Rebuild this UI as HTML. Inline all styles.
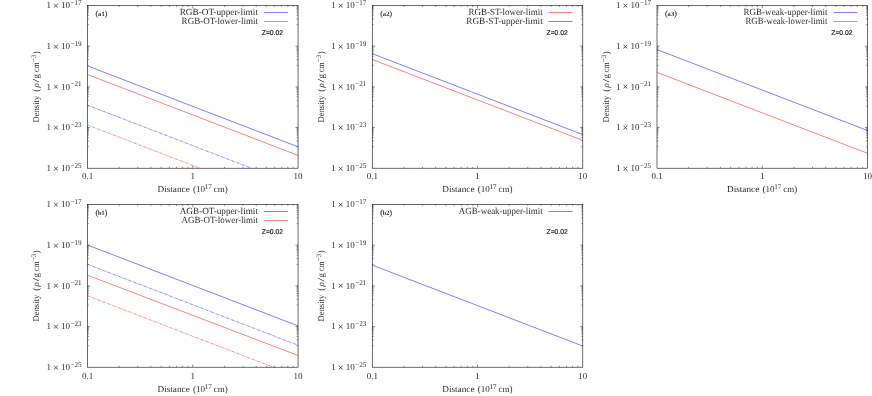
<!DOCTYPE html>
<html><head><meta charset="utf-8"><title>density</title>
<style>
html,body{margin:0;padding:0;background:#fff;}
body{width:872px;height:396px;overflow:hidden;}
svg{display:block;will-change:transform;text-rendering:geometricPrecision;}
.t{font-family:"Liberation Serif",serif;font-size:9px;fill:#2e2e2e;}
.sup{font-family:"Liberation Serif",serif;font-size:7.15px;fill:#2e2e2e;}
.tag{font-family:"Liberation Serif",serif;font-weight:bold;font-size:6.6px;fill:#2e2e2e;}
.z{font-family:"Liberation Sans",sans-serif;font-size:7px;fill:#2e2e2e;stroke:#222;stroke-width:0.2px;}
.par{font-family:"Liberation Serif",serif;font-size:7.7px;fill:#222;stroke:#222;stroke-width:0.15px;}
</style></head><body>
<svg width="872" height="396" viewBox="0 0 872 396">
<path d="M119.19 168.2v-1.4M119.19 5.5v1.4M137.73 168.2v-1.4M137.73 5.5v1.4M150.88 168.2v-1.4M150.88 5.5v1.4M161.08 168.2v-1.4M161.08 5.5v1.4M169.42 168.2v-1.4M169.42 5.5v1.4M176.47 168.2v-1.4M176.47 5.5v1.4M182.57 168.2v-1.4M182.57 5.5v1.4M187.96 168.2v-1.4M187.96 5.5v1.4M192.78 168.2v-2.6M192.78 5.5v2.6M224.47 168.2v-1.4M224.47 5.5v1.4M243 168.2v-1.4M243 5.5v1.4M256.16 168.2v-1.4M256.16 5.5v1.4M266.36 168.2v-1.4M266.36 5.5v1.4M274.69 168.2v-1.4M274.69 5.5v1.4M281.74 168.2v-1.4M281.74 5.5v1.4M287.85 168.2v-1.4M287.85 5.5v1.4M293.23 168.2v-1.4M293.23 5.5v1.4M87.5 24.7h1.4M298.05 24.7h-1.4M87.5 18.92h1.4M298.05 18.92h-1.4M87.5 15.54h1.4M298.05 15.54h-1.4M87.5 13.14h1.4M298.05 13.14h-1.4M87.5 11.28h1.4M298.05 11.28h-1.4M87.5 9.76h1.4M298.05 9.76h-1.4M87.5 8.47h1.4M298.05 8.47h-1.4M87.5 7.36h1.4M298.05 7.36h-1.4M87.5 6.38h1.4M298.05 6.38h-1.4M87.5 46.17h2.6M298.05 46.17h-2.6M87.5 65.38h1.4M298.05 65.38h-1.4M87.5 59.6h1.4M298.05 59.6h-1.4M87.5 56.21h1.4M298.05 56.21h-1.4M87.5 53.82h1.4M298.05 53.82h-1.4M87.5 51.95h1.4M298.05 51.95h-1.4M87.5 50.43h1.4M298.05 50.43h-1.4M87.5 49.15h1.4M298.05 49.15h-1.4M87.5 48.04h1.4M298.05 48.04h-1.4M87.5 47.05h1.4M298.05 47.05h-1.4M87.5 86.85h2.6M298.05 86.85h-2.6M87.5 106.05h1.4M298.05 106.05h-1.4M87.5 100.27h1.4M298.05 100.27h-1.4M87.5 96.89h1.4M298.05 96.89h-1.4M87.5 94.49h1.4M298.05 94.49h-1.4M87.5 92.63h1.4M298.05 92.63h-1.4M87.5 91.11h1.4M298.05 91.11h-1.4M87.5 89.82h1.4M298.05 89.82h-1.4M87.5 88.71h1.4M298.05 88.71h-1.4M87.5 87.73h1.4M298.05 87.73h-1.4M87.5 127.52h2.6M298.05 127.52h-2.6M87.5 146.72h1.4M298.05 146.72h-1.4M87.5 140.95h1.4M298.05 140.95h-1.4M87.5 137.56h1.4M298.05 137.56h-1.4M87.5 135.17h1.4M298.05 135.17h-1.4M87.5 133.3h1.4M298.05 133.3h-1.4M87.5 131.78h1.4M298.05 131.78h-1.4M87.5 130.5h1.4M298.05 130.5h-1.4M87.5 129.39h1.4M298.05 129.39h-1.4M87.5 128.4h1.4M298.05 128.4h-1.4" stroke="#000" stroke-width="0.44" fill="none"/>
<clipPath id="ca1"><rect x="87.5" y="5.5" width="210.55" height="162.7"/></clipPath>
<g clip-path="url(#ca1)" fill="none" stroke-width="0.5">
<path d="M87.5 65.9L298.05 146.8" stroke="#0000ff"/>
<path d="M87.5 74.5L298.05 155.4" stroke="#ff0000"/>
<path d="M87.5 105.2L298.05 186.1" stroke="#0000ff" stroke-opacity="0.45"/>
<path d="M87.5 105.2L298.05 186.1" stroke="#0000ff" stroke-opacity="0.6" stroke-dasharray="2.2 3.32"/>
<path d="M87.5 125L298.05 205.9" stroke="#ff0000" stroke-opacity="0.45"/>
<path d="M87.5 125L298.05 205.9" stroke="#ff0000" stroke-opacity="0.6" stroke-dasharray="2.2 3.32"/>
</g>
<rect x="87.5" y="5.5" width="210.55" height="162.7" fill="none" stroke="#000" stroke-width="0.58"/>
<text x="46.5" y="8.2" class="t">1</text>
<text x="55.85" y="9.1" class="t" style="font-size:10.2px" text-anchor="middle">×</text>
<text x="61" y="8.2" class="t">10</text>
<text x="70.5" y="5.05" class="sup">−17</text>
<text x="46.5" y="48.88" class="t">1</text>
<text x="55.85" y="49.77" class="t" style="font-size:10.2px" text-anchor="middle">×</text>
<text x="61" y="48.88" class="t">10</text>
<text x="70.5" y="45.73" class="sup">−19</text>
<text x="46.5" y="89.55" class="t">1</text>
<text x="55.85" y="90.45" class="t" style="font-size:10.2px" text-anchor="middle">×</text>
<text x="61" y="89.55" class="t">10</text>
<text x="70.5" y="86.4" class="sup">−21</text>
<text x="46.5" y="130.22" class="t">1</text>
<text x="55.85" y="131.12" class="t" style="font-size:10.2px" text-anchor="middle">×</text>
<text x="61" y="130.22" class="t">10</text>
<text x="70.5" y="127.07" class="sup">−23</text>
<text x="46.5" y="170.9" class="t">1</text>
<text x="55.85" y="171.8" class="t" style="font-size:10.2px" text-anchor="middle">×</text>
<text x="61" y="170.9" class="t">10</text>
<text x="70.5" y="167.75" class="sup">−25</text>
<text x="87.5" y="178.8" class="t" text-anchor="middle">0.1</text>
<text x="192.78" y="178.8" class="t" text-anchor="middle">1</text>
<text x="298.05" y="178.8" class="t" text-anchor="middle">10</text>
<text x="157.48" y="191.8" class="t" textLength="32.3" lengthAdjust="spacingAndGlyphs">Distance</text>
<text x="193.08" y="191.8" class="t">(10</text>
<text x="204.68" y="188.7" class="sup">17</text>
<text x="213.68" y="191.8" class="t">cm)</text>
<g transform="translate(39.1 86.85) rotate(-90)">
<text x="-35.6" y="0" class="t" textLength="26.6" lengthAdjust="spacingAndGlyphs">Density</text>
<text x="-5.0" y="0" class="t">(</text>
<text x="-0.7" y="0" class="t" font-style="italic">ρ</text>
<text x="4.3" y="0" class="t" textLength="3.7" lengthAdjust="spacingAndGlyphs">/</text>
<text x="8.4" y="0" class="t">g</text>
<text x="14.5" y="0" class="t" textLength="10" lengthAdjust="spacingAndGlyphs">cm</text>
<text x="24.7" y="-3.0" class="sup">−3</text>
<text x="32.6" y="0" class="t">)</text>
</g>
<text x="95.5" y="16.3" class="par">(</text>
<text x="98.1" y="16" class="tag" textLength="6.6" lengthAdjust="spacingAndGlyphs">a1</text>
<text x="104.7" y="16.3" class="par">)</text>
<text x="258" y="14.7" class="t" style="font-size:9.4px" text-anchor="end" textLength="78.3" lengthAdjust="spacingAndGlyphs">RGB-OT-upper-limit</text>
<path d="M263.9 12.5h24" stroke="#0000ff" stroke-width="0.5" fill="none"/>
<text x="258" y="23.7" class="t" style="font-size:9.4px" text-anchor="end" textLength="76.4" lengthAdjust="spacingAndGlyphs">RGB-OT-lower-limit</text>
<path d="M263.9 21.5h24" stroke="#ff0000" stroke-width="0.5" fill="none"/>
<text x="261.8" y="35.1" class="z" textLength="21.2" lengthAdjust="spacingAndGlyphs">Z=0.02</text>
<path d="M403.94 168.2v-1.4M403.94 5.5v1.4M422.48 168.2v-1.4M422.48 5.5v1.4M435.63 168.2v-1.4M435.63 5.5v1.4M445.83 168.2v-1.4M445.83 5.5v1.4M454.17 168.2v-1.4M454.17 5.5v1.4M461.22 168.2v-1.4M461.22 5.5v1.4M467.32 168.2v-1.4M467.32 5.5v1.4M472.71 168.2v-1.4M472.71 5.5v1.4M477.52 168.2v-2.6M477.52 5.5v2.6M509.22 168.2v-1.4M509.22 5.5v1.4M527.75 168.2v-1.4M527.75 5.5v1.4M540.91 168.2v-1.4M540.91 5.5v1.4M551.11 168.2v-1.4M551.11 5.5v1.4M559.44 168.2v-1.4M559.44 5.5v1.4M566.49 168.2v-1.4M566.49 5.5v1.4M572.6 168.2v-1.4M572.6 5.5v1.4M577.98 168.2v-1.4M577.98 5.5v1.4M372.25 24.7h1.4M582.8 24.7h-1.4M372.25 18.92h1.4M582.8 18.92h-1.4M372.25 15.54h1.4M582.8 15.54h-1.4M372.25 13.14h1.4M582.8 13.14h-1.4M372.25 11.28h1.4M582.8 11.28h-1.4M372.25 9.76h1.4M582.8 9.76h-1.4M372.25 8.47h1.4M582.8 8.47h-1.4M372.25 7.36h1.4M582.8 7.36h-1.4M372.25 6.38h1.4M582.8 6.38h-1.4M372.25 46.17h2.6M582.8 46.17h-2.6M372.25 65.38h1.4M582.8 65.38h-1.4M372.25 59.6h1.4M582.8 59.6h-1.4M372.25 56.21h1.4M582.8 56.21h-1.4M372.25 53.82h1.4M582.8 53.82h-1.4M372.25 51.95h1.4M582.8 51.95h-1.4M372.25 50.43h1.4M582.8 50.43h-1.4M372.25 49.15h1.4M582.8 49.15h-1.4M372.25 48.04h1.4M582.8 48.04h-1.4M372.25 47.05h1.4M582.8 47.05h-1.4M372.25 86.85h2.6M582.8 86.85h-2.6M372.25 106.05h1.4M582.8 106.05h-1.4M372.25 100.27h1.4M582.8 100.27h-1.4M372.25 96.89h1.4M582.8 96.89h-1.4M372.25 94.49h1.4M582.8 94.49h-1.4M372.25 92.63h1.4M582.8 92.63h-1.4M372.25 91.11h1.4M582.8 91.11h-1.4M372.25 89.82h1.4M582.8 89.82h-1.4M372.25 88.71h1.4M582.8 88.71h-1.4M372.25 87.73h1.4M582.8 87.73h-1.4M372.25 127.52h2.6M582.8 127.52h-2.6M372.25 146.72h1.4M582.8 146.72h-1.4M372.25 140.95h1.4M582.8 140.95h-1.4M372.25 137.56h1.4M582.8 137.56h-1.4M372.25 135.17h1.4M582.8 135.17h-1.4M372.25 133.3h1.4M582.8 133.3h-1.4M372.25 131.78h1.4M582.8 131.78h-1.4M372.25 130.5h1.4M582.8 130.5h-1.4M372.25 129.39h1.4M582.8 129.39h-1.4M372.25 128.4h1.4M582.8 128.4h-1.4" stroke="#000" stroke-width="0.44" fill="none"/>
<clipPath id="ca2"><rect x="372.25" y="5.5" width="210.55" height="162.7"/></clipPath>
<g clip-path="url(#ca2)" fill="none" stroke-width="0.5">
<path d="M372.25 59.5L582.8 140.4" stroke="#ff0000"/>
<path d="M372.25 53.7L582.8 134.6" stroke="#0000ff"/>
</g>
<rect x="372.25" y="5.5" width="210.55" height="162.7" fill="none" stroke="#000" stroke-width="0.58"/>
<text x="331.25" y="8.2" class="t">1</text>
<text x="340.6" y="9.1" class="t" style="font-size:10.2px" text-anchor="middle">×</text>
<text x="345.75" y="8.2" class="t">10</text>
<text x="355.25" y="5.05" class="sup">−17</text>
<text x="331.25" y="48.88" class="t">1</text>
<text x="340.6" y="49.77" class="t" style="font-size:10.2px" text-anchor="middle">×</text>
<text x="345.75" y="48.88" class="t">10</text>
<text x="355.25" y="45.73" class="sup">−19</text>
<text x="331.25" y="89.55" class="t">1</text>
<text x="340.6" y="90.45" class="t" style="font-size:10.2px" text-anchor="middle">×</text>
<text x="345.75" y="89.55" class="t">10</text>
<text x="355.25" y="86.4" class="sup">−21</text>
<text x="331.25" y="130.22" class="t">1</text>
<text x="340.6" y="131.12" class="t" style="font-size:10.2px" text-anchor="middle">×</text>
<text x="345.75" y="130.22" class="t">10</text>
<text x="355.25" y="127.07" class="sup">−23</text>
<text x="331.25" y="170.9" class="t">1</text>
<text x="340.6" y="171.8" class="t" style="font-size:10.2px" text-anchor="middle">×</text>
<text x="345.75" y="170.9" class="t">10</text>
<text x="355.25" y="167.75" class="sup">−25</text>
<text x="372.25" y="178.8" class="t" text-anchor="middle">0.1</text>
<text x="477.52" y="178.8" class="t" text-anchor="middle">1</text>
<text x="582.8" y="178.8" class="t" text-anchor="middle">10</text>
<text x="442.22" y="191.8" class="t" textLength="32.3" lengthAdjust="spacingAndGlyphs">Distance</text>
<text x="477.82" y="191.8" class="t">(10</text>
<text x="489.42" y="188.7" class="sup">17</text>
<text x="498.42" y="191.8" class="t">cm)</text>
<g transform="translate(323.85 86.85) rotate(-90)">
<text x="-35.6" y="0" class="t" textLength="26.6" lengthAdjust="spacingAndGlyphs">Density</text>
<text x="-5.0" y="0" class="t">(</text>
<text x="-0.7" y="0" class="t" font-style="italic">ρ</text>
<text x="4.3" y="0" class="t" textLength="3.7" lengthAdjust="spacingAndGlyphs">/</text>
<text x="8.4" y="0" class="t">g</text>
<text x="14.5" y="0" class="t" textLength="10" lengthAdjust="spacingAndGlyphs">cm</text>
<text x="24.7" y="-3.0" class="sup">−3</text>
<text x="32.6" y="0" class="t">)</text>
</g>
<text x="380.25" y="16.3" class="par">(</text>
<text x="382.85" y="16" class="tag" textLength="6.6" lengthAdjust="spacingAndGlyphs">a2</text>
<text x="389.45" y="16.3" class="par">)</text>
<text x="542.75" y="14.7" class="t" style="font-size:9.4px" text-anchor="end" textLength="74.3" lengthAdjust="spacingAndGlyphs">RGB-ST-lower-limit</text>
<path d="M548.65 12.5h24" stroke="#ff0000" stroke-width="0.5" fill="none"/>
<text x="542.75" y="23.7" class="t" style="font-size:9.4px" text-anchor="end" textLength="76.5" lengthAdjust="spacingAndGlyphs">RGB-ST-upper-limit</text>
<path d="M548.65 21.5h24" stroke="#0000ff" stroke-width="0.5" fill="none"/>
<text x="546.55" y="35.1" class="z" textLength="21.2" lengthAdjust="spacingAndGlyphs">Z=0.02</text>
<path d="M688.69 168.2v-1.4M688.69 5.5v1.4M707.23 168.2v-1.4M707.23 5.5v1.4M720.38 168.2v-1.4M720.38 5.5v1.4M730.58 168.2v-1.4M730.58 5.5v1.4M738.92 168.2v-1.4M738.92 5.5v1.4M745.97 168.2v-1.4M745.97 5.5v1.4M752.07 168.2v-1.4M752.07 5.5v1.4M757.46 168.2v-1.4M757.46 5.5v1.4M762.27 168.2v-2.6M762.27 5.5v2.6M793.97 168.2v-1.4M793.97 5.5v1.4M812.5 168.2v-1.4M812.5 5.5v1.4M825.66 168.2v-1.4M825.66 5.5v1.4M835.86 168.2v-1.4M835.86 5.5v1.4M844.19 168.2v-1.4M844.19 5.5v1.4M851.24 168.2v-1.4M851.24 5.5v1.4M857.35 168.2v-1.4M857.35 5.5v1.4M862.73 168.2v-1.4M862.73 5.5v1.4M657 24.7h1.4M867.55 24.7h-1.4M657 18.92h1.4M867.55 18.92h-1.4M657 15.54h1.4M867.55 15.54h-1.4M657 13.14h1.4M867.55 13.14h-1.4M657 11.28h1.4M867.55 11.28h-1.4M657 9.76h1.4M867.55 9.76h-1.4M657 8.47h1.4M867.55 8.47h-1.4M657 7.36h1.4M867.55 7.36h-1.4M657 6.38h1.4M867.55 6.38h-1.4M657 46.17h2.6M867.55 46.17h-2.6M657 65.38h1.4M867.55 65.38h-1.4M657 59.6h1.4M867.55 59.6h-1.4M657 56.21h1.4M867.55 56.21h-1.4M657 53.82h1.4M867.55 53.82h-1.4M657 51.95h1.4M867.55 51.95h-1.4M657 50.43h1.4M867.55 50.43h-1.4M657 49.15h1.4M867.55 49.15h-1.4M657 48.04h1.4M867.55 48.04h-1.4M657 47.05h1.4M867.55 47.05h-1.4M657 86.85h2.6M867.55 86.85h-2.6M657 106.05h1.4M867.55 106.05h-1.4M657 100.27h1.4M867.55 100.27h-1.4M657 96.89h1.4M867.55 96.89h-1.4M657 94.49h1.4M867.55 94.49h-1.4M657 92.63h1.4M867.55 92.63h-1.4M657 91.11h1.4M867.55 91.11h-1.4M657 89.82h1.4M867.55 89.82h-1.4M657 88.71h1.4M867.55 88.71h-1.4M657 87.73h1.4M867.55 87.73h-1.4M657 127.52h2.6M867.55 127.52h-2.6M657 146.72h1.4M867.55 146.72h-1.4M657 140.95h1.4M867.55 140.95h-1.4M657 137.56h1.4M867.55 137.56h-1.4M657 135.17h1.4M867.55 135.17h-1.4M657 133.3h1.4M867.55 133.3h-1.4M657 131.78h1.4M867.55 131.78h-1.4M657 130.5h1.4M867.55 130.5h-1.4M657 129.39h1.4M867.55 129.39h-1.4M657 128.4h1.4M867.55 128.4h-1.4" stroke="#000" stroke-width="0.44" fill="none"/>
<clipPath id="ca3"><rect x="657" y="5.5" width="210.55" height="162.7"/></clipPath>
<g clip-path="url(#ca3)" fill="none" stroke-width="0.5">
<path d="M657 49.6L867.55 130.5" stroke="#0000ff"/>
<path d="M657 72.4L867.55 153.3" stroke="#ff0000"/>
</g>
<rect x="657" y="5.5" width="210.55" height="162.7" fill="none" stroke="#000" stroke-width="0.58"/>
<text x="616" y="8.2" class="t">1</text>
<text x="625.35" y="9.1" class="t" style="font-size:10.2px" text-anchor="middle">×</text>
<text x="630.5" y="8.2" class="t">10</text>
<text x="640" y="5.05" class="sup">−17</text>
<text x="616" y="48.88" class="t">1</text>
<text x="625.35" y="49.77" class="t" style="font-size:10.2px" text-anchor="middle">×</text>
<text x="630.5" y="48.88" class="t">10</text>
<text x="640" y="45.73" class="sup">−19</text>
<text x="616" y="89.55" class="t">1</text>
<text x="625.35" y="90.45" class="t" style="font-size:10.2px" text-anchor="middle">×</text>
<text x="630.5" y="89.55" class="t">10</text>
<text x="640" y="86.4" class="sup">−21</text>
<text x="616" y="130.22" class="t">1</text>
<text x="625.35" y="131.12" class="t" style="font-size:10.2px" text-anchor="middle">×</text>
<text x="630.5" y="130.22" class="t">10</text>
<text x="640" y="127.07" class="sup">−23</text>
<text x="616" y="170.9" class="t">1</text>
<text x="625.35" y="171.8" class="t" style="font-size:10.2px" text-anchor="middle">×</text>
<text x="630.5" y="170.9" class="t">10</text>
<text x="640" y="167.75" class="sup">−25</text>
<text x="657" y="178.8" class="t" text-anchor="middle">0.1</text>
<text x="762.27" y="178.8" class="t" text-anchor="middle">1</text>
<text x="867.55" y="178.8" class="t" text-anchor="middle">10</text>
<text x="726.98" y="191.8" class="t" textLength="32.3" lengthAdjust="spacingAndGlyphs">Distance</text>
<text x="762.57" y="191.8" class="t">(10</text>
<text x="774.17" y="188.7" class="sup">17</text>
<text x="783.17" y="191.8" class="t">cm)</text>
<g transform="translate(608.6 86.85) rotate(-90)">
<text x="-35.6" y="0" class="t" textLength="26.6" lengthAdjust="spacingAndGlyphs">Density</text>
<text x="-5.0" y="0" class="t">(</text>
<text x="-0.7" y="0" class="t" font-style="italic">ρ</text>
<text x="4.3" y="0" class="t" textLength="3.7" lengthAdjust="spacingAndGlyphs">/</text>
<text x="8.4" y="0" class="t">g</text>
<text x="14.5" y="0" class="t" textLength="10" lengthAdjust="spacingAndGlyphs">cm</text>
<text x="24.7" y="-3.0" class="sup">−3</text>
<text x="32.6" y="0" class="t">)</text>
</g>
<text x="665" y="16.3" class="par">(</text>
<text x="667.6" y="16" class="tag" textLength="6.6" lengthAdjust="spacingAndGlyphs">a3</text>
<text x="674.2" y="16.3" class="par">)</text>
<text x="827.5" y="14.7" class="t" style="font-size:9.4px" text-anchor="end" textLength="83.9" lengthAdjust="spacingAndGlyphs">RGB-weak-upper-limit</text>
<path d="M833.4 12.5h24" stroke="#0000ff" stroke-width="0.5" fill="none"/>
<text x="827.5" y="23.7" class="t" style="font-size:9.4px" text-anchor="end" textLength="82" lengthAdjust="spacingAndGlyphs">RGB-weak-lower-limit</text>
<path d="M833.4 21.5h24" stroke="#ff0000" stroke-width="0.5" fill="none"/>
<text x="831.3" y="35.1" class="z" textLength="21.2" lengthAdjust="spacingAndGlyphs">Z=0.02</text>
<path d="M119.19 367.2v-1.4M119.19 204.5v1.4M137.73 367.2v-1.4M137.73 204.5v1.4M150.88 367.2v-1.4M150.88 204.5v1.4M161.08 367.2v-1.4M161.08 204.5v1.4M169.42 367.2v-1.4M169.42 204.5v1.4M176.47 367.2v-1.4M176.47 204.5v1.4M182.57 367.2v-1.4M182.57 204.5v1.4M187.96 367.2v-1.4M187.96 204.5v1.4M192.78 367.2v-2.6M192.78 204.5v2.6M224.47 367.2v-1.4M224.47 204.5v1.4M243 367.2v-1.4M243 204.5v1.4M256.16 367.2v-1.4M256.16 204.5v1.4M266.36 367.2v-1.4M266.36 204.5v1.4M274.69 367.2v-1.4M274.69 204.5v1.4M281.74 367.2v-1.4M281.74 204.5v1.4M287.85 367.2v-1.4M287.85 204.5v1.4M293.23 367.2v-1.4M293.23 204.5v1.4M87.5 223.7h1.4M298.05 223.7h-1.4M87.5 217.92h1.4M298.05 217.92h-1.4M87.5 214.54h1.4M298.05 214.54h-1.4M87.5 212.14h1.4M298.05 212.14h-1.4M87.5 210.28h1.4M298.05 210.28h-1.4M87.5 208.76h1.4M298.05 208.76h-1.4M87.5 207.47h1.4M298.05 207.47h-1.4M87.5 206.36h1.4M298.05 206.36h-1.4M87.5 205.38h1.4M298.05 205.38h-1.4M87.5 245.18h2.6M298.05 245.18h-2.6M87.5 264.38h1.4M298.05 264.38h-1.4M87.5 258.6h1.4M298.05 258.6h-1.4M87.5 255.21h1.4M298.05 255.21h-1.4M87.5 252.82h1.4M298.05 252.82h-1.4M87.5 250.95h1.4M298.05 250.95h-1.4M87.5 249.43h1.4M298.05 249.43h-1.4M87.5 248.15h1.4M298.05 248.15h-1.4M87.5 247.04h1.4M298.05 247.04h-1.4M87.5 246.05h1.4M298.05 246.05h-1.4M87.5 285.85h2.6M298.05 285.85h-2.6M87.5 305.05h1.4M298.05 305.05h-1.4M87.5 299.27h1.4M298.05 299.27h-1.4M87.5 295.89h1.4M298.05 295.89h-1.4M87.5 293.49h1.4M298.05 293.49h-1.4M87.5 291.63h1.4M298.05 291.63h-1.4M87.5 290.11h1.4M298.05 290.11h-1.4M87.5 288.82h1.4M298.05 288.82h-1.4M87.5 287.71h1.4M298.05 287.71h-1.4M87.5 286.73h1.4M298.05 286.73h-1.4M87.5 326.52h2.6M298.05 326.52h-2.6M87.5 345.72h1.4M298.05 345.72h-1.4M87.5 339.95h1.4M298.05 339.95h-1.4M87.5 336.56h1.4M298.05 336.56h-1.4M87.5 334.17h1.4M298.05 334.17h-1.4M87.5 332.3h1.4M298.05 332.3h-1.4M87.5 330.78h1.4M298.05 330.78h-1.4M87.5 329.5h1.4M298.05 329.5h-1.4M87.5 328.39h1.4M298.05 328.39h-1.4M87.5 327.4h1.4M298.05 327.4h-1.4" stroke="#000" stroke-width="0.44" fill="none"/>
<clipPath id="cb1"><rect x="87.5" y="204.5" width="210.55" height="162.7"/></clipPath>
<g clip-path="url(#cb1)" fill="none" stroke-width="0.5">
<path d="M87.5 245L298.05 325.9" stroke="#0000ff"/>
<path d="M87.5 275.2L298.05 355.5" stroke="#ff0000"/>
<path d="M87.5 264.3L298.05 345.2" stroke="#0000ff" stroke-opacity="0.45"/>
<path d="M87.5 264.3L298.05 345.2" stroke="#0000ff" stroke-opacity="0.6" stroke-dasharray="2.2 3.32"/>
<path d="M87.5 295.8L298.05 376.7" stroke="#ff0000" stroke-opacity="0.45"/>
<path d="M87.5 295.8L298.05 376.7" stroke="#ff0000" stroke-opacity="0.6" stroke-dasharray="2.2 3.32"/>
</g>
<rect x="87.5" y="204.5" width="210.55" height="162.7" fill="none" stroke="#000" stroke-width="0.58"/>
<text x="46.5" y="207.2" class="t">1</text>
<text x="55.85" y="208.1" class="t" style="font-size:10.2px" text-anchor="middle">×</text>
<text x="61" y="207.2" class="t">10</text>
<text x="70.5" y="204.05" class="sup">−17</text>
<text x="46.5" y="247.88" class="t">1</text>
<text x="55.85" y="248.78" class="t" style="font-size:10.2px" text-anchor="middle">×</text>
<text x="61" y="247.88" class="t">10</text>
<text x="70.5" y="244.72" class="sup">−19</text>
<text x="46.5" y="288.55" class="t">1</text>
<text x="55.85" y="289.45" class="t" style="font-size:10.2px" text-anchor="middle">×</text>
<text x="61" y="288.55" class="t">10</text>
<text x="70.5" y="285.4" class="sup">−21</text>
<text x="46.5" y="329.22" class="t">1</text>
<text x="55.85" y="330.12" class="t" style="font-size:10.2px" text-anchor="middle">×</text>
<text x="61" y="329.22" class="t">10</text>
<text x="70.5" y="326.07" class="sup">−23</text>
<text x="46.5" y="369.9" class="t">1</text>
<text x="55.85" y="370.8" class="t" style="font-size:10.2px" text-anchor="middle">×</text>
<text x="61" y="369.9" class="t">10</text>
<text x="70.5" y="366.75" class="sup">−25</text>
<text x="87.5" y="378.6" class="t" text-anchor="middle">0.1</text>
<text x="192.78" y="378.6" class="t" text-anchor="middle">1</text>
<text x="298.05" y="378.6" class="t" text-anchor="middle">10</text>
<text x="157.48" y="391.6" class="t" textLength="32.3" lengthAdjust="spacingAndGlyphs">Distance</text>
<text x="193.08" y="391.6" class="t">(10</text>
<text x="204.68" y="388.5" class="sup">17</text>
<text x="213.68" y="391.6" class="t">cm)</text>
<g transform="translate(39.1 285.85) rotate(-90)">
<text x="-35.6" y="0" class="t" textLength="26.6" lengthAdjust="spacingAndGlyphs">Density</text>
<text x="-5.0" y="0" class="t">(</text>
<text x="-0.7" y="0" class="t" font-style="italic">ρ</text>
<text x="4.3" y="0" class="t" textLength="3.7" lengthAdjust="spacingAndGlyphs">/</text>
<text x="8.4" y="0" class="t">g</text>
<text x="14.5" y="0" class="t" textLength="10" lengthAdjust="spacingAndGlyphs">cm</text>
<text x="24.7" y="-3.0" class="sup">−3</text>
<text x="32.6" y="0" class="t">)</text>
</g>
<text x="95.5" y="215.3" class="par">(</text>
<text x="98.1" y="215" class="tag" textLength="6.6" lengthAdjust="spacingAndGlyphs">b1</text>
<text x="104.7" y="215.3" class="par">)</text>
<text x="258" y="213.7" class="t" style="font-size:9.4px" text-anchor="end" textLength="78.3" lengthAdjust="spacingAndGlyphs">AGB-OT-upper-limit</text>
<path d="M263.9 211.5h24" stroke="#0000ff" stroke-width="0.5" fill="none"/>
<text x="258" y="222.7" class="t" style="font-size:9.4px" text-anchor="end" textLength="76.4" lengthAdjust="spacingAndGlyphs">AGB-OT-lower-limit</text>
<path d="M263.9 220.5h24" stroke="#ff0000" stroke-width="0.5" fill="none"/>
<text x="261.8" y="234.1" class="z" textLength="21.2" lengthAdjust="spacingAndGlyphs">Z=0.02</text>
<path d="M403.94 367.2v-1.4M403.94 204.5v1.4M422.48 367.2v-1.4M422.48 204.5v1.4M435.63 367.2v-1.4M435.63 204.5v1.4M445.83 367.2v-1.4M445.83 204.5v1.4M454.17 367.2v-1.4M454.17 204.5v1.4M461.22 367.2v-1.4M461.22 204.5v1.4M467.32 367.2v-1.4M467.32 204.5v1.4M472.71 367.2v-1.4M472.71 204.5v1.4M477.52 367.2v-2.6M477.52 204.5v2.6M509.22 367.2v-1.4M509.22 204.5v1.4M527.75 367.2v-1.4M527.75 204.5v1.4M540.91 367.2v-1.4M540.91 204.5v1.4M551.11 367.2v-1.4M551.11 204.5v1.4M559.44 367.2v-1.4M559.44 204.5v1.4M566.49 367.2v-1.4M566.49 204.5v1.4M572.6 367.2v-1.4M572.6 204.5v1.4M577.98 367.2v-1.4M577.98 204.5v1.4M372.25 223.7h1.4M582.8 223.7h-1.4M372.25 217.92h1.4M582.8 217.92h-1.4M372.25 214.54h1.4M582.8 214.54h-1.4M372.25 212.14h1.4M582.8 212.14h-1.4M372.25 210.28h1.4M582.8 210.28h-1.4M372.25 208.76h1.4M582.8 208.76h-1.4M372.25 207.47h1.4M582.8 207.47h-1.4M372.25 206.36h1.4M582.8 206.36h-1.4M372.25 205.38h1.4M582.8 205.38h-1.4M372.25 245.18h2.6M582.8 245.18h-2.6M372.25 264.38h1.4M582.8 264.38h-1.4M372.25 258.6h1.4M582.8 258.6h-1.4M372.25 255.21h1.4M582.8 255.21h-1.4M372.25 252.82h1.4M582.8 252.82h-1.4M372.25 250.95h1.4M582.8 250.95h-1.4M372.25 249.43h1.4M582.8 249.43h-1.4M372.25 248.15h1.4M582.8 248.15h-1.4M372.25 247.04h1.4M582.8 247.04h-1.4M372.25 246.05h1.4M582.8 246.05h-1.4M372.25 285.85h2.6M582.8 285.85h-2.6M372.25 305.05h1.4M582.8 305.05h-1.4M372.25 299.27h1.4M582.8 299.27h-1.4M372.25 295.89h1.4M582.8 295.89h-1.4M372.25 293.49h1.4M582.8 293.49h-1.4M372.25 291.63h1.4M582.8 291.63h-1.4M372.25 290.11h1.4M582.8 290.11h-1.4M372.25 288.82h1.4M582.8 288.82h-1.4M372.25 287.71h1.4M582.8 287.71h-1.4M372.25 286.73h1.4M582.8 286.73h-1.4M372.25 326.52h2.6M582.8 326.52h-2.6M372.25 345.72h1.4M582.8 345.72h-1.4M372.25 339.95h1.4M582.8 339.95h-1.4M372.25 336.56h1.4M582.8 336.56h-1.4M372.25 334.17h1.4M582.8 334.17h-1.4M372.25 332.3h1.4M582.8 332.3h-1.4M372.25 330.78h1.4M582.8 330.78h-1.4M372.25 329.5h1.4M582.8 329.5h-1.4M372.25 328.39h1.4M582.8 328.39h-1.4M372.25 327.4h1.4M582.8 327.4h-1.4" stroke="#000" stroke-width="0.44" fill="none"/>
<clipPath id="cb2"><rect x="372.25" y="204.5" width="210.55" height="162.7"/></clipPath>
<g clip-path="url(#cb2)" fill="none" stroke-width="0.5">
<path d="M372.25 265.15L582.8 346.05" stroke="#0000ff"/>
</g>
<rect x="372.25" y="204.5" width="210.55" height="162.7" fill="none" stroke="#000" stroke-width="0.58"/>
<text x="331.25" y="207.2" class="t">1</text>
<text x="340.6" y="208.1" class="t" style="font-size:10.2px" text-anchor="middle">×</text>
<text x="345.75" y="207.2" class="t">10</text>
<text x="355.25" y="204.05" class="sup">−17</text>
<text x="331.25" y="247.88" class="t">1</text>
<text x="340.6" y="248.78" class="t" style="font-size:10.2px" text-anchor="middle">×</text>
<text x="345.75" y="247.88" class="t">10</text>
<text x="355.25" y="244.72" class="sup">−19</text>
<text x="331.25" y="288.55" class="t">1</text>
<text x="340.6" y="289.45" class="t" style="font-size:10.2px" text-anchor="middle">×</text>
<text x="345.75" y="288.55" class="t">10</text>
<text x="355.25" y="285.4" class="sup">−21</text>
<text x="331.25" y="329.22" class="t">1</text>
<text x="340.6" y="330.12" class="t" style="font-size:10.2px" text-anchor="middle">×</text>
<text x="345.75" y="329.22" class="t">10</text>
<text x="355.25" y="326.07" class="sup">−23</text>
<text x="331.25" y="369.9" class="t">1</text>
<text x="340.6" y="370.8" class="t" style="font-size:10.2px" text-anchor="middle">×</text>
<text x="345.75" y="369.9" class="t">10</text>
<text x="355.25" y="366.75" class="sup">−25</text>
<text x="372.25" y="378.6" class="t" text-anchor="middle">0.1</text>
<text x="477.52" y="378.6" class="t" text-anchor="middle">1</text>
<text x="582.8" y="378.6" class="t" text-anchor="middle">10</text>
<text x="442.22" y="391.6" class="t" textLength="32.3" lengthAdjust="spacingAndGlyphs">Distance</text>
<text x="477.82" y="391.6" class="t">(10</text>
<text x="489.42" y="388.5" class="sup">17</text>
<text x="498.42" y="391.6" class="t">cm)</text>
<g transform="translate(323.85 285.85) rotate(-90)">
<text x="-35.6" y="0" class="t" textLength="26.6" lengthAdjust="spacingAndGlyphs">Density</text>
<text x="-5.0" y="0" class="t">(</text>
<text x="-0.7" y="0" class="t" font-style="italic">ρ</text>
<text x="4.3" y="0" class="t" textLength="3.7" lengthAdjust="spacingAndGlyphs">/</text>
<text x="8.4" y="0" class="t">g</text>
<text x="14.5" y="0" class="t" textLength="10" lengthAdjust="spacingAndGlyphs">cm</text>
<text x="24.7" y="-3.0" class="sup">−3</text>
<text x="32.6" y="0" class="t">)</text>
</g>
<text x="380.25" y="215.3" class="par">(</text>
<text x="382.85" y="215" class="tag" textLength="6.6" lengthAdjust="spacingAndGlyphs">b2</text>
<text x="389.45" y="215.3" class="par">)</text>
<text x="542.75" y="213.7" class="t" style="font-size:9.4px" text-anchor="end" textLength="84" lengthAdjust="spacingAndGlyphs">AGB-weak-upper-limit</text>
<path d="M548.65 211.5h24" stroke="#0000ff" stroke-width="0.5" fill="none"/>
<text x="546.55" y="234.1" class="z" textLength="21.2" lengthAdjust="spacingAndGlyphs">Z=0.02</text>
</svg>
</body></html>
